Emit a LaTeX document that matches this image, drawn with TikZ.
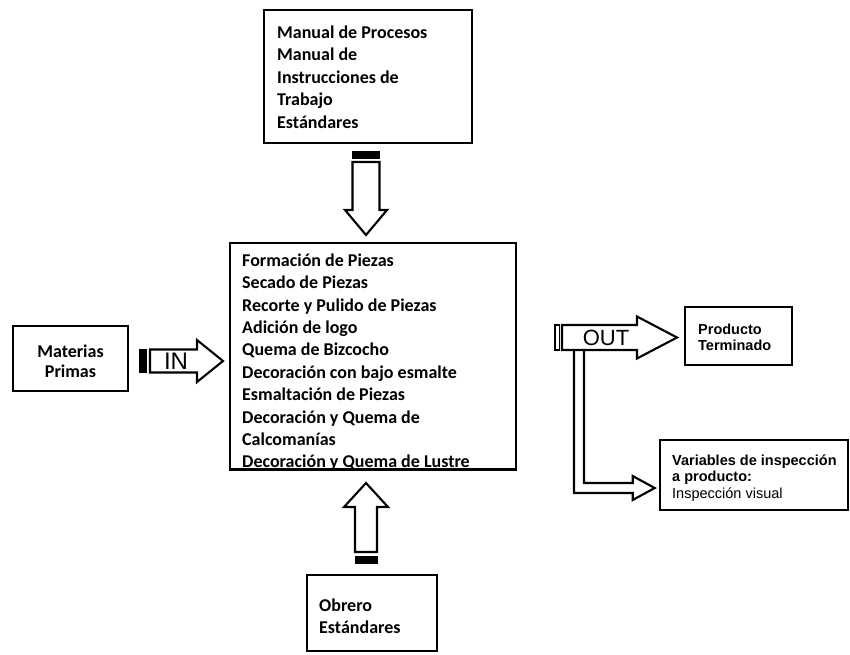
\documentclass[tikz,border=0pt]{standalone}
\usepackage{fontspec}
\setmainfont{Carlito}
\newfontfamily\arialfont{Liberation Sans}
\usetikzlibrary{calc}

% Block arrow with a solid stripe at its tail.
% #1 tail coordinate, #2 direction (degrees), #3 length,
% #4 shaft half width, #5 head half width, #6 head length
\newcommand{\stripedarrow}[6]{%
  \begin{scope}[shift={(#1)}, rotate=#2]
    \filldraw[line width=1pt] (0,-#4) rectangle (7,#4);
    \draw[arrowline] (11,-#4) -- ({#3-#6},-#4) -- ({#3-#6},-#5) -- (#3,0)
      -- ({#3-#6},#5) -- ({#3-#6},#4) -- (11,#4) -- cycle;
  \end{scope}}

\newcommand{\firststrut}{\rule{0pt}{14pt}}
\newcommand{\arialstrut}{\rule{0pt}{11pt}}

\begin{document}
\begin{tikzpicture}[x=1pt,y=-1pt,
  box/.style={draw, line width=2.6pt, inner sep=0pt},
  arrowline/.style={draw, line width=2.1pt, line join=miter},
  bodytext/.style={inner sep=0pt, align=left, anchor=north west,
    font=\fontsize{18}{22.4}\selectfont\bfseries},
  sanstext/.style={inner sep=0pt, align=left, anchor=north west,
    font=\arialfont\fontsize{14.5}{16.4}\selectfont},
  flowlabel/.style={inner sep=0pt, font=\arialfont\fontsize{22}{24}\selectfont}]

\path[use as bounding box, fill=white] (0,0) rectangle (850,654);

% boxes
\node[box, minimum width=208pt, minimum height=133pt] (manual) at (368,76.5) {};
\node[box, minimum width=286pt, minimum height=226.5pt] (proceso) at (373,356.25) {};
\node[box, minimum width=115pt, minimum height=65pt] (materias) at (70.5,358.5) {};
\node[box, minimum width=107pt, minimum height=58pt] (producto) at (738.5,336) {};
\node[box, minimum width=188pt, minimum height=70pt] (variables) at (754,475) {};
\node[box, minimum width=130pt, minimum height=76pt] (obrero) at (372,613) {};

% box texts
\node[bodytext] (manualtext) at (277,24.3) {\firststrut Manual de Procesos\\
  Manual de\\ Instrucciones de\\ Trabajo\\ Estándares};
\node[bodytext] (procesotext) at (242,252) {\firststrut Formación de Piezas\\
  Secado de Piezas\\ Recorte y Pulido de Piezas\\ Adición de logo\\
  Quema de Bizcocho\\ Decoración con bajo esmalte\\ Esmaltación de Piezas\\
  Decoración y Quema de\\ Calcomanías\\ Decoración y Quema de Lustre};
\node[bodytext, align=center, anchor=north,
  font=\fontsize{18}{19.5}\selectfont\bfseries] (materiastext) at (70.5,343.3)
  {\firststrut Materias\\ Primas};
\node[bodytext, font=\fontsize{18}{21.7}\selectfont\bfseries] (obrerotext)
  at (319,597.7) {\firststrut Obrero\\ Estándares};
\node[sanstext, font=\arialfont\fontsize{14.5}{16.4}\selectfont\bfseries]
  (productotext) at (698,323.3) {\arialstrut Producto\\ Terminado};
\node[sanstext] (variablestext) at (672,454)
  {\arialstrut{\bfseries Variables de inspección}\\ {\bfseries a producto:}\\
  Inspección visual};

% block arrows
\coordinate (downtail) at (366,151);
\coordinate (intail) at (139,361);
\coordinate (uptail) at (366,563);
\stripedarrow{downtail}{-90}{84}{13.5}{21}{25}
\stripedarrow{intail}{0}{84}{11.5}{21}{26}
\stripedarrow{uptail}{90}{80}{11}{22}{24}

% output arrow with hollow stripe
\coordinate (outtail) at (555,337.5);
\begin{scope}[shift={(outtail)}]
  \draw[line width=1.8pt] (0,-12.5) rectangle (4.5,12.5);
  \draw[arrowline] (7,-12.5) -- (82,-12.5) -- (82,-21) -- (122,0)
    -- (82,21) -- (82,12.5) -- (7,12.5) -- cycle;
\end{scope}

\node[flowlabel, font=\arialfont\fontsize{24}{26}\selectfont] (inlabel) at (176,361) {IN};
\node[flowlabel] (outlabel) at (606,338) {OUT};

% branch from the output arrow to the inspection box
\coordinate (forkleft) at (574,350);
\coordinate (forkright) at (584,350);
\coordinate (branchtip) at ($(variables.west)+(-4,13)$);
\draw[arrowline] (forkleft) |- ($(branchtip)+(-22,5)$) -- ++(0,7)
  -- (branchtip) -- ($(branchtip)+(-22,-12)$) -- ++(0,7) -| (forkright);
\end{tikzpicture}
\end{document}
